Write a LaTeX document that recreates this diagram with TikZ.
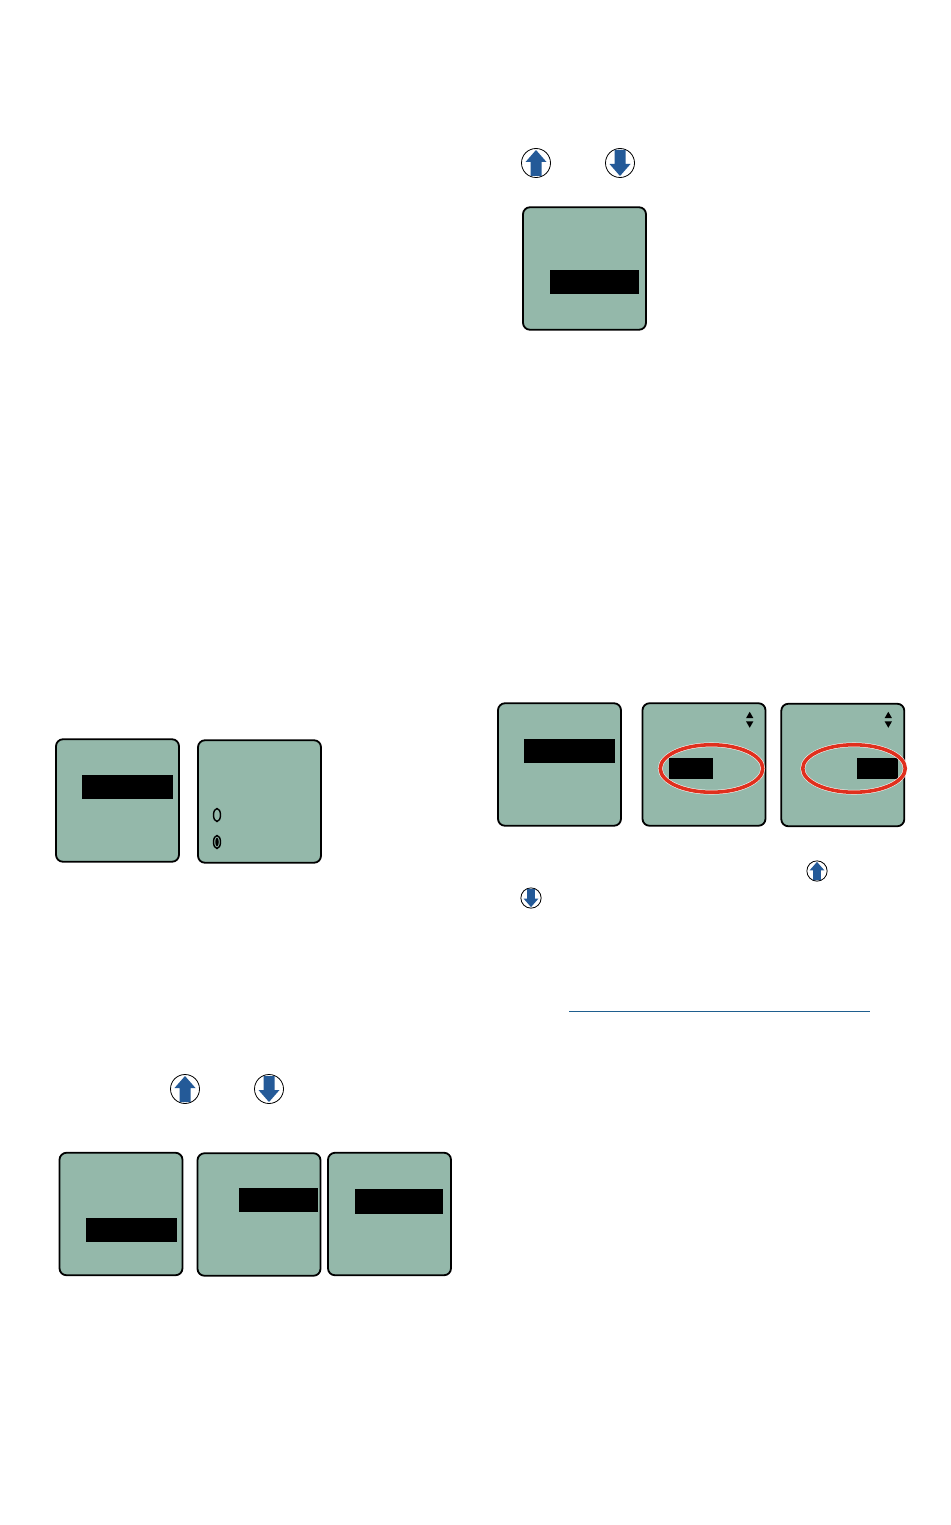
\documentclass[tikz,border=0pt]{standalone}
\usetikzlibrary{shapes.geometric}

\definecolor{lcdgreen}{HTML}{94B8AA}
\definecolor{keyblue}{HTML}{245A98}
\definecolor{ringred}{HTML}{E0301E}
\definecolor{ruleblue}{HTML}{1F5F8F}

\tikzset{
  screen/.style={draw,fill=lcdgreen,line width=1.8pt,rounded corners=7pt,inner sep=0pt,
    minimum width=123pt,minimum height=122.5pt},
  bar/.style={fill=black,inner sep=0pt,minimum width=90pt,minimum height=24pt},
  upkey/.pic={
    \draw[fill=white,line width=.8pt] (0,0) circle (14.5);
    \fill[keyblue] (0,-13) -- (10.5,-1) -- (5.5,-1) -- (5.5,13) -- (-5.5,13) -- (-5.5,-1) -- (-10.5,-1) -- cycle;
  },
  radio/.style={ellipse,draw,line width=1.4pt,inner sep=0pt,minimum width=7pt,minimum height=13pt},
  dot/.style={ellipse,fill=black,inner sep=0pt,minimum width=3.5pt,minimum height=9pt},
  tri/.style={regular polygon,regular polygon sides=3,fill=black,inner sep=0pt,minimum size=8.5pt},
  trid/.style={tri,shape border rotate=180},
  ring/.style={ellipse,draw=white,double=ringred,double distance=3.6pt,line width=.5pt,
    inner sep=0pt,minimum width=102.5pt,minimum height=47.5pt}
}

\begin{document}
\begin{tikzpicture}[x=1pt,y=-1pt]
  \useasboundingbox (0,0) rectangle (950,1525);

  % top right
  \pic (up1) at (536,163) {upkey};
  \pic[rotate=180] (down1) at (620,163) {upkey};
  \node[screen] (scrA) at (584.5,268.5) {};
  \node[bar,minimum width=89pt] (barA) at (594.5,282) {};

  % left middle
  \node[screen] (scrB) at (117.5,800.5) {};
  \node[bar,minimum width=91pt] (barB) at (127.5,787) {};
  \node[screen] (scrC) at (259.5,801.5) {};
  \node[radio] (radio1) at (217,815) {};
  \node[radio] (radio2) at (217,842) {};
  \node[dot] (dot2) at (217,842) {};

  % left bottom
  \pic (up2) at (185,1089) {upkey};
  \pic[rotate=180] (down2) at (269,1089) {upkey};
  \node[screen] (scrD) at (121,1214) {};
  \node[bar,minimum width=91pt] (barD) at (131.5,1230) {};
  \node[screen] (scrE) at (259,1214.5) {};
  \node[bar,minimum width=79pt] (barE) at (278.5,1200) {};
  \node[screen] (scrF) at (389.5,1214) {};
  \node[bar,minimum width=88pt,minimum height=25pt] (barF) at (399,1201.5) {};

  % right middle
  \node[screen] (scrG) at (559.5,764.5) {};
  \node[bar,minimum width=91pt] (barG) at (569.5,751) {};
  \node[screen] (scrH) at (704,764.5) {};
  \node[bar,minimum width=44pt,minimum height=21pt] (barH) at (691,768) {};
  \node[tri] (triH) at (749.7,716) {};
  \node[trid] (tridH) at (749.7,723.5) {};
  \node[ring] (ringH) at (711.5,768.5) {};
  \node[screen] (scrI) at (842.8,765) {};
  \node[bar,minimum width=41pt,minimum height=21pt] (barI) at (877.5,768.5) {};
  \node[tri] (triI) at (888.3,716) {};
  \node[trid] (tridI) at (888.3,723.5) {};
  \node[ring] (ringI) at (854,768.5) {};

  % small keys
  \pic[scale=.7] (up3) at (817,871) {upkey};
  \pic[scale=.7,rotate=180] (down3) at (531,898) {upkey};

  \coordinate (ruleL) at (569,1011.5);
  \coordinate (ruleR) at (870,1011.5);
  \draw[ruleblue,line width=.8pt] (ruleL) -- (ruleR);
\end{tikzpicture}
\end{document}
